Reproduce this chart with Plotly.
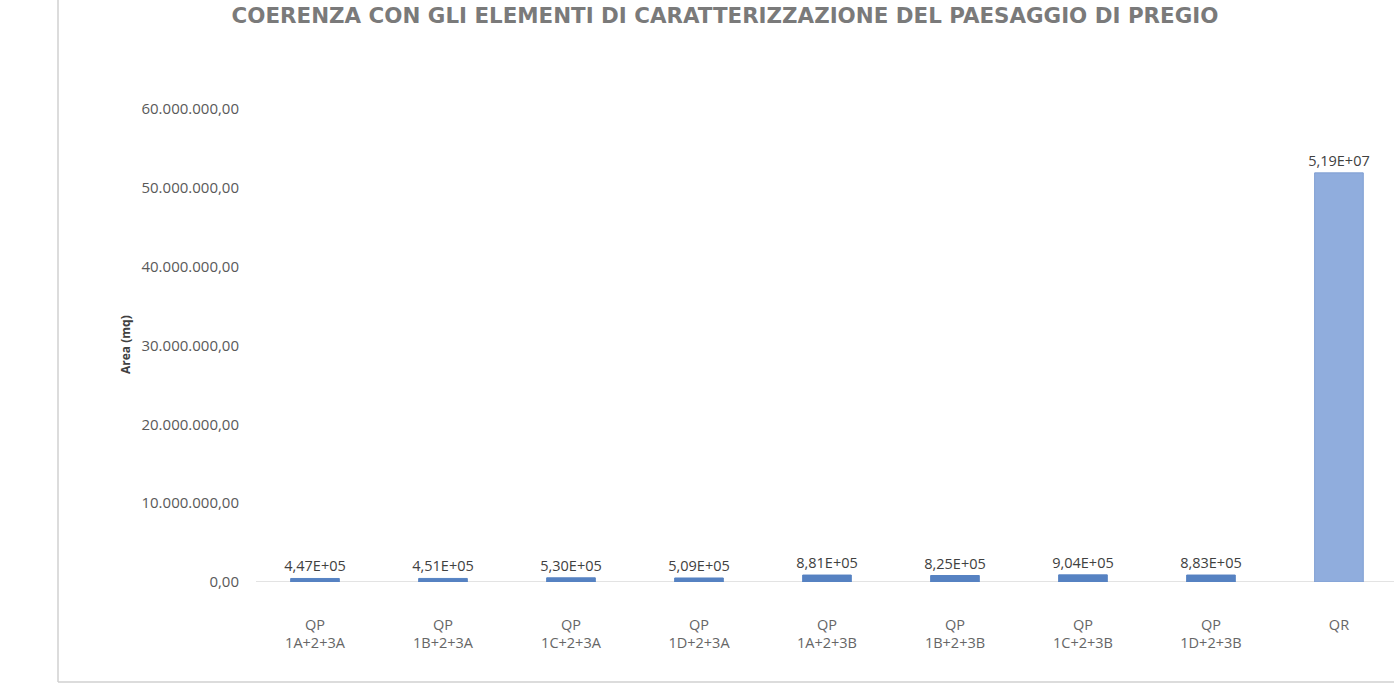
import plotly.graph_objects as go

categories = ["QP<br>1A+2+3A", "QP<br>1B+2+3A", "QP<br>1C+2+3A", "QP<br>1D+2+3A",
              "QP<br>1A+2+3B", "QP<br>1B+2+3B", "QP<br>1C+2+3B", "QP<br>1D+2+3B", "QR"]
values = [4.47e5, 4.51e5, 5.30e5, 5.09e5, 8.81e5, 8.25e5, 9.04e5, 8.83e5, 5.19e7]
value_labels = ["4,47E+05", "4,51E+05", "5,30E+05", "5,09E+05", "8,81E+05",
                "8,25E+05", "9,04E+05", "8,83E+05", "5,19E+07"]
y_tickvals = [0, 1e7, 2e7, 3e7, 4e7, 5e7, 6e7]
y_ticktext = ["0,00", "10.000.000,00", "20.000.000,00", "30.000.000,00",
              "40.000.000,00", "50.000.000,00", "60.000.000,00"]
title_text = "COERENZA CON GLI ELEMENTI DI CARATTERIZZAZIONE DEL PAESAGGIO DI PREGIO"
y_title = "Area (mq)"

W, H = 1394, 700
ml, mr, mt, mb = 251, 0, 109, 118

fig = go.Figure()
fig.add_trace(go.Bar(
    x=list(range(len(categories))),
    y=values,
    width=0.38,
    marker=dict(
        color=["#5682c2"] * 8 + ["#90addd"],
        line=dict(color=["#5682c2"] * 8 + ["#7f9ed2"], width=1),
    ),
    text=value_labels,
    textposition="outside",
    constraintext="none",
    cliponaxis=False,
    textfont=dict(family="Open Sans", size=14.5, color="#404040"),
    hoverinfo="skip",
))

fig.update_layout(
    width=W, height=H,
    margin=dict(l=ml, r=mr, t=mt, b=mb, pad=0),
    paper_bgcolor="white", plot_bgcolor="white",
    showlegend=False,
    title=dict(text="<b>" + title_text + "</b>", x=725 / W, xanchor="center",
               y=1 - 16 / H, yanchor="middle",
               font=dict(family="DejaVu Sans", size=21.4, color="#7a7a7a")),
    xaxis=dict(
        range=[-0.5, 8.43],
        tickmode="array", tickvals=list(range(len(categories))), ticktext=categories,
        showgrid=False, zeroline=False, showline=False,
        ticks="", tickfont=dict(family="Open Sans", size=14.5, color="#666666"),
        ticklabelstandoff=32,
    ),
    yaxis=dict(
        range=[0, 6e7],
        tickmode="array", tickvals=y_tickvals, ticktext=y_ticktext,
        showgrid=False, zeroline=False, showline=False, ticks="",
        tickfont=dict(family="Open Sans", size=15, color="#595959"),
        ticklabelstandoff=11,
    ),
)

pw = W - ml - mr
ph = H - mt - mb
def px_to_paper_x(p):
    return (p - ml) / pw
def px_to_paper_y(p):
    return (H - mb - p) / ph

fig.add_annotation(text="<b>" + y_title + "</b>", textangle=-90,
                   xref="paper", yref="paper",
                   x=px_to_paper_x(125), y=px_to_paper_y(345),
                   xanchor="center", yanchor="middle", showarrow=False,
                   font=dict(family="Open Sans", size=12, color="#404040"))

# zero axis line
fig.add_shape(type="line", xref="paper", yref="y",
              x0=px_to_paper_x(256), x1=1, y0=0, y1=0,
              line=dict(color="#c8c8c8", width=1.2), layer="below")
# chart frame borders
fig.add_shape(type="line", xref="paper", yref="paper",
              x0=px_to_paper_x(58), x1=px_to_paper_x(58),
              y0=px_to_paper_y(0), y1=px_to_paper_y(682),
              line=dict(color="#d0d0d0", width=1.5))
fig.add_shape(type="line", xref="paper", yref="paper",
              x0=px_to_paper_x(58), x1=1.0,
              y0=px_to_paper_y(682), y1=px_to_paper_y(682),
              line=dict(color="#d0d0d0", width=1.5))

fig.write_html("out.html", config={"displayModeBar": False},
               post_script="document.body.style.margin='0';")
